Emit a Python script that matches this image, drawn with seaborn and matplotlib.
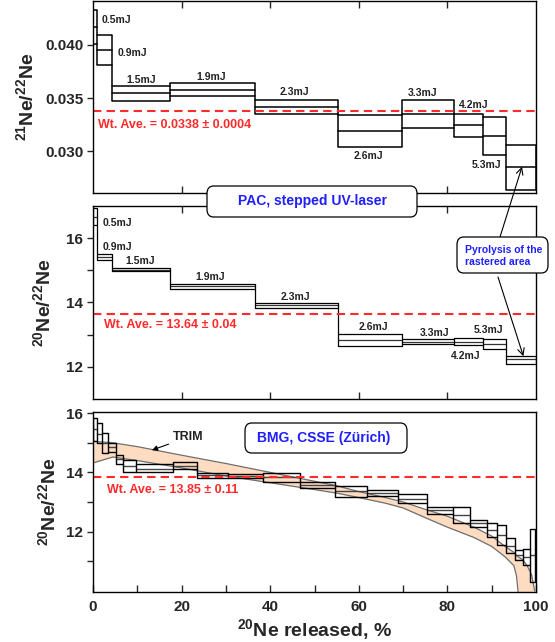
import numpy as np
import pandas as pd
import seaborn as sns
import matplotlib.pyplot as plt
from matplotlib.patches import FancyBboxPatch
from matplotlib.ticker import FixedLocator

# ---- PAC, stepped UV-laser: step edges (% 20Ne released) and energies
pac_edges = [0.0, 0.8, 4.2, 17.4, 36.6, 55.2, 69.7, 81.6, 88.1, 93.2, 99.9]
pac_energy = ['0.5mJ', '0.9mJ', '1.5mJ', '1.9mJ', '2.3mJ', '2.6mJ', '3.3mJ', '4.2mJ', '5.3mJ', '']

# 21Ne/22Ne per step
ne21_hi = [0.0433, 0.04088, 0.03611, 0.03645, 0.03486, 0.0334, 0.03483, 0.03355, 0.03318, 0.03063]
ne21_mid = [0.0417, 0.03948, 0.03546, 0.03577, 0.03418, 0.03187, 0.03355, 0.03243, 0.0314, 0.02857]
ne21_lo = [0.0401, 0.03807, 0.03477, 0.03521, 0.0335, 0.03044, 0.03219, 0.03131, 0.02966, 0.02639]
ne21_ave = 0.0338

# 20Ne/22Ne per step
ne20_hi = [16.93, 15.51, 15.08, 14.57, 13.98, 13.02, 12.87, 12.90, 12.87, 12.33]
ne20_mid = [16.67, 15.43, 15.02, 14.50, 13.92, 12.84, 12.78, 12.78, 12.72, 12.23]
ne20_lo = [16.41, 15.31, 14.97, 14.43, 13.82, 12.66, 12.70, 12.68, 12.54, 12.10]
ne20_ave = 13.64

# ---- BMG, CSSE (Zurich)
cs_edges = [0.0, 0.8, 2.0, 3.4, 5.3, 6.8, 9.8, 18.1, 23.4, 30.5, 38.4, 46.7, 54.6,
            61.8, 68.9, 75.3, 81.2, 85.1, 88.9, 91.1, 93.2, 95.3, 97.1, 98.6, 99.8]
cs_hi = [15.85, 15.66, 15.32, 14.99, 14.60, 14.42, 14.27, 14.36, 13.97, 13.94, 13.97, 13.69,
         13.54, 13.41, 13.26, 12.82, 12.82, 12.40, 12.28, 12.22, 11.78, 11.38, 11.41, 12.10]
cs_mid = [15.45, 15.30, 15.00, 14.85, 14.45, 14.20, 14.13, 14.22, 13.90, 13.87, 13.83, 13.58,
          13.36, 13.30, 13.10, 12.72, 12.55, 12.28, 12.05, 11.88, 11.50, 11.20, 11.15, 11.20]
cs_lo = [15.05, 14.99, 14.65, 14.69, 14.30, 14.00, 14.03, 14.10, 13.82, 13.82, 13.69, 13.47,
         13.18, 13.21, 12.96, 12.60, 12.28, 12.17, 11.83, 11.55, 11.27, 11.04, 10.87, 10.30]
cs_ave = 13.85

# TRIM band
trim_x = [0, 4.5, 10, 20, 30, 40, 50, 55, 60, 66, 70, 75, 80, 86, 90, 93, 95, 95.6, 96, 97, 98, 99, 99.7]
trim_hi = [15.05, 15.0, 14.87, 14.58, 14.3, 14.0, 13.7, 13.55, 13.35, 13.15, 13.0, 12.75, 12.52,
           12.15, 11.85, 11.5, 11.3, 11.2, 11.15, 11.05, 10.85, 10.55, 10.0]
trim_lo = [14.32, 14.52, 14.4, 14.15, 13.88, 13.65, 13.42, 13.3, 13.15, 12.96, 12.8, 12.47, 12.15,
           11.8, 11.5, 11.15, 10.85, 10.5, 9.9, 9.9, 9.9, 9.9, 9.9]

# label positions (data coords) for energies
ne21_lab_x = [5.3, 9.0, 10.9, 26.6, 45.4, 62.1, 74.3, 86.0, 88.8]
ne21_lab_y = [0.04228, 0.03925, 0.03673, 0.03698, 0.03558, 0.02957, 0.03546, 0.03439, 0.02873]
ne20_lab_x = [5.6, 5.5, 10.6, 26.5, 45.6, 63.2, 77.0, 84.2, 89.3]
ne20_lab_y = [16.48, 15.73, 15.30, 14.78, 14.18, 13.23, 13.06, 12.35, 13.13]

sns.set_theme(style='ticks')
plt.rcParams['font.family'] = ['Liberation Sans', 'DejaVu Sans']
plt.rcParams['font.weight'] = 'bold'
plt.rcParams['axes.labelweight'] = 'bold'
plt.rcParams['mathtext.fontset'] = 'custom'
plt.rcParams['mathtext.bf'] = 'Liberation Sans:bold'
plt.rcParams['mathtext.rm'] = 'Liberation Sans:bold'
plt.rcParams['axes.linewidth'] = 1.0
plt.rcParams['axes.edgecolor'] = 'black'

RED = '#ff2a2a'
BLUE = '#1f1fff'
W, H = 555, 642


def draw_steps(ax, edges, lo, mid, hi, lw=1.0, midcolor='black'):
    rows = []
    for i in range(len(mid)):
        for lvl, vals in (('hi', hi), ('mid', mid), ('lo', lo)):
            rows.append({'x': edges[i], 'y': vals[i], 'seg': f'{lvl}{i}', 'lvl': lvl})
            rows.append({'x': edges[i + 1], 'y': vals[i], 'seg': f'{lvl}{i}', 'lvl': lvl})
    df = pd.DataFrame(rows)
    sns.lineplot(data=df, x='x', y='y', units='seg', estimator=None, hue='lvl',
                 palette={'hi': 'black', 'mid': midcolor, 'lo': 'black'},
                 sort=False, legend=False, ax=ax, lw=lw)
    n = len(mid)
    ax.vlines(edges[0], lo[0], hi[0], color='black', lw=lw)
    ax.vlines(edges[n], lo[n - 1], hi[n - 1], color='black', lw=lw)
    for i in range(1, n):
        ax.vlines(edges[i], min(lo[i - 1], lo[i]), max(hi[i - 1], hi[i]), color='black', lw=lw)
    ax.set_xlabel('')
    ax.set_ylabel('')


def px_axes(top, bottom):
    return [93 / W, 1 - bottom / H, (536 - 93) / W, (bottom - top) / H]


fig = plt.figure(figsize=(W / 100, H / 100), dpi=100)
ax1 = fig.add_axes(px_axes(1, 193))
ax2 = fig.add_axes(px_axes(206, 399))
ax3 = fig.add_axes(px_axes(412, 592))
for ax in (ax1, ax2, ax3):
    ax.set_facecolor('none')
    ax.set_xlim(0, 100)
    for s in ax.spines.values():
        s.set_visible(True)
        s.set_linewidth(1.0)
    ax.tick_params(axis='y', direction='out', length=4, width=1, pad=3, labelsize=11)

# top panel
draw_steps(ax1, pac_edges, ne21_lo, ne21_mid, ne21_hi, lw=1.1)
ax1.axhline(ne21_ave, color=RED, ls=(0, (4, 2.5)), lw=1.5)
ax1.set_ylim(0.0261, 0.0441)
ax1.set_yticks([0.030, 0.035, 0.040])
ax1.set_yticklabels(['0.030', '0.035', '0.040'])
for lab, x, y in zip(pac_energy, ne21_lab_x, ne21_lab_y):
    ax1.text(x, y, lab, fontsize=7.5, ha='center', va='center', color='#222222')
ax1.text(1.1, 0.0325, 'Wt. Ave. = 0.0338 \u00b1 0.0004', color=RED, fontsize=9, va='center')
ax1.set_ylabel(r'$^{\mathbf{21}}$Ne/$^{\mathbf{22}}$Ne', fontsize=14, fontweight='bold')
ax1.yaxis.set_label_coords(-0.124, 0.5)

# middle panel
draw_steps(ax2, pac_edges, ne20_lo, ne20_mid, ne20_hi, lw=0.9, midcolor='#333333')
ax2.axhline(ne20_ave, color=RED, ls=(0, (4, 2.5)), lw=1.5)
ax2.set_ylim(11.0, 17.0)
ax2.set_yticks([12, 14, 16])
ax2.yaxis.set_minor_locator(FixedLocator([13, 15]))
for lab, x, y in zip(pac_energy, ne20_lab_x, ne20_lab_y):
    ax2.text(x, y, lab, fontsize=7.5, ha='center', va='center', color='#222222')
ax2.text(2.5, 13.29, 'Wt. Ave. = 13.64 \u00b1 0.04', color=RED, fontsize=9, va='center')
ax2.set_ylabel(r'$^{\mathbf{20}}$Ne/$^{\mathbf{22}}$Ne', fontsize=14, fontweight='bold')
ax2.yaxis.set_label_coords(-0.086, 0.5)

for ax in (ax1, ax2):
    ax.set_xticks([20, 40, 60, 80])
    ax.tick_params(axis='x', direction='in', top=True, bottom=True, length=5, width=1,
                   labelbottom=False)
    ax.tick_params(axis='y', which='minor', direction='out', length=4, width=1)

# bottom panel
ax3.fill_between(trim_x, trim_lo, trim_hi, color='#fddcc2', lw=0)
sns.lineplot(x=trim_x, y=trim_hi, color='#6e6e6e', lw=0.9, ax=ax3, sort=False)
sns.lineplot(x=trim_x, y=trim_lo, color='#6e6e6e', lw=0.9, ax=ax3, sort=False)
draw_steps(ax3, cs_edges, cs_lo, cs_mid, cs_hi, lw=1.0, midcolor='#444444')
ax3.axhline(cs_ave, color=RED, ls=(0, (4, 2.5)), lw=1.5)
ax3.set_ylim(9.96, 16.04)
ax3.set_yticks([12, 14, 16])
ax3.yaxis.set_minor_locator(FixedLocator([11, 13, 15]))
ax3.tick_params(axis='y', which='minor', direction='out', length=4, width=1)
ax3.set_xticks([0, 20, 40, 60, 80, 100])
ax3.xaxis.set_minor_locator(FixedLocator([10, 30, 50, 70, 90]))
ax3.tick_params(axis='x', which='both', direction='in', top=False, bottom=True, length=5,
                width=1, labelsize=11, pad=6)
ax3.text(3.2, 13.41, 'Wt. Ave. = 13.85 \u00b1 0.11', color=RED, fontsize=9, va='center')
ax3.annotate('TRIM', xy=(13.3, 14.75), xytext=(18.1, 15.2), fontsize=9, color='#222222',
             va='center', arrowprops=dict(arrowstyle='-|>', color='black', lw=0.8,
                                          mutation_scale=8, shrinkA=1, shrinkB=0))
ax3.set_ylabel(r'$^{\mathbf{20}}$Ne/$^{\mathbf{22}}$Ne', fontsize=14, fontweight='bold')
ax3.yaxis.set_label_coords(-0.075, 0.5)
ax3.set_xlabel(r'$^{\mathbf{20}}$Ne released, %', fontsize=14, fontweight='bold', labelpad=2)

for ax in (ax1, ax2, ax3):
    for t in ax.get_yticklabels() + ax.get_xticklabels():
        t.set_fontweight('bold')


# rounded label boxes in figure pixels (top-left origin)
def fig_box(x0, y0, x1, y1):
    p = FancyBboxPatch((x0 / W, 1 - y1 / H), (x1 - x0) / W, (y1 - y0) / H,
                       boxstyle='round,pad=0,rounding_size=0.012', transform=fig.transFigure,
                       fc='white', ec='black', lw=0.9, zorder=10)
    fig.add_artist(p)


fig_box(207, 186, 417, 217)
fig.text(312 / W, 1 - 201.5 / H, 'PAC, stepped UV-laser', color=BLUE, fontsize=10,
         ha='center', va='center', zorder=11)
fig_box(457, 237, 548, 273)
fig.text(465 / W, 1 - 255.5 / H, 'Pyrolysis of the\nrastered area', color=BLUE, fontsize=7.5,
         ha='left', va='center', linespacing=1.25, zorder=11)
fig_box(245, 423, 407, 453)
fig.text(324 / W, 1 - 438 / H, 'BMG, CSSE (Z\u00fcrich)', color=BLUE, fontsize=10,
         ha='center', va='center', zorder=11)

# arrows from pyrolysis box to the last step
last_x = (pac_edges[-2] + pac_edges[-1]) / 2 + 0.3
ax1.annotate('', xy=(last_x, ne21_mid[-1]), xytext=(500, H - 237), textcoords='figure pixels',
             arrowprops=dict(arrowstyle='->', color='black', lw=0.8, shrinkA=0, shrinkB=0),
             annotation_clip=False)
ax2.annotate('', xy=(last_x + 0.3, ne20_hi[-1]), xytext=(498, H - 277), textcoords='figure pixels',
             arrowprops=dict(arrowstyle='->', color='black', lw=0.8, shrinkA=0, shrinkB=0),
             annotation_clip=False)

fig.savefig('out.png', dpi=100)
